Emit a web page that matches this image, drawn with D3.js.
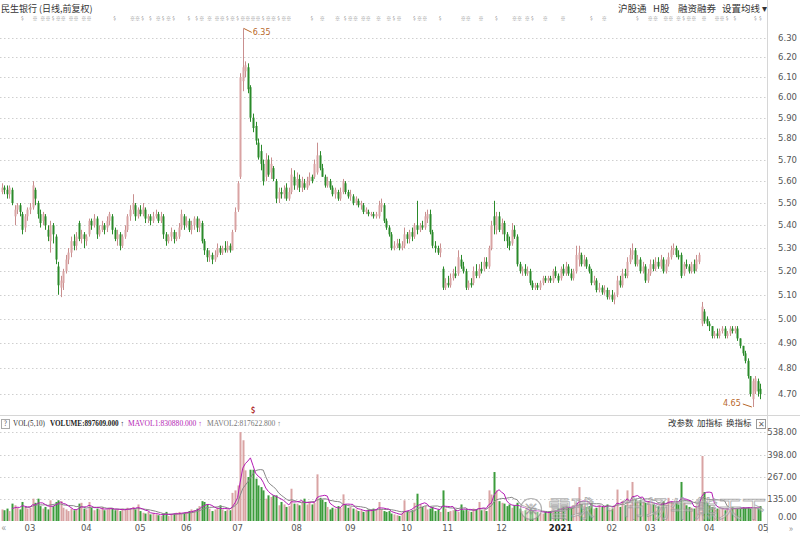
<!DOCTYPE html>
<html><head><meta charset="utf-8">
<script src="https://cdn.jsdelivr.net/npm/d3@7"></script>
<style>
body{margin:0;background:#fff;}
svg{display:block;font-family:"Noto Sans CJK SC","Noto Sans",sans-serif;}
</style>
</head><body>
<svg id="c" width="800" height="533"></svg>
<script>
// ---- DATA (daily OHLC, 2020-02-14 .. 2021-04-30) ----
const opens=[
5.55,5.57,5.56,5.54,5.56,5.44,5.47,5.49,5.45,5.39,
5.44,5.47,5.48,5.56,5.50,5.45,5.42,5.44,5.38,5.33,
5.40,5.35,5.22,5.13,5.15,5.20,5.25,5.28,5.33,5.31,
5.41,5.34,5.36,5.33,5.36,5.42,5.40,5.43,5.36,5.38,
5.40,5.39,5.42,5.44,5.38,5.34,5.36,5.31,5.35,5.38,
5.44,5.47,5.49,5.44,5.47,5.45,5.47,5.43,5.44,5.42,
5.44,5.45,5.42,5.44,5.36,5.33,5.35,5.37,5.34,5.35,
5.39,5.44,5.40,5.42,5.38,5.40,5.43,5.39,5.41,5.33,
5.29,5.26,5.27,5.25,5.27,5.30,5.28,5.30,5.29,5.31,
5.29,5.38,5.47,5.62,6.08,6.13,6.15,6.05,5.90,5.86,
5.78,5.74,5.68,5.62,5.70,5.64,5.66,5.60,5.52,5.55,
5.54,5.57,5.52,5.55,5.62,5.58,5.61,5.57,5.59,5.57,
5.60,5.62,5.62,5.64,5.72,5.66,5.62,5.58,5.60,5.57,
5.54,5.55,5.52,5.55,5.59,5.55,5.53,5.53,5.50,5.51,
5.49,5.49,5.46,5.46,5.45,5.45,5.44,5.44,5.48,5.49,
5.42,5.39,5.36,5.30,5.31,5.32,5.30,5.31,5.36,5.34,
5.37,5.35,5.40,5.38,5.40,5.39,5.43,5.45,5.37,5.31,
5.30,5.28,5.21,5.13,5.15,5.14,5.17,5.19,5.19,5.25,
5.22,5.20,5.13,5.15,5.15,5.20,5.18,5.21,5.21,5.24,
5.22,5.30,5.44,5.38,5.44,5.38,5.41,5.36,5.33,5.32,
5.38,5.35,5.23,5.20,5.21,5.19,5.20,5.15,5.13,5.14,
5.13,5.15,5.17,5.16,5.17,5.16,5.20,5.18,5.17,5.21,
5.19,5.22,5.19,5.17,5.20,5.25,5.27,5.23,5.25,5.22,
5.20,5.15,5.16,5.12,5.13,5.11,5.12,5.09,5.10,5.08,
5.10,5.16,5.14,5.19,5.18,5.24,5.27,5.29,5.23,5.25,
5.20,5.22,5.16,5.19,5.23,5.21,5.24,5.22,5.25,5.20,
5.23,5.26,5.29,5.30,5.27,5.27,5.19,5.23,5.22,5.20,
5.23,5.21,5.24,4.98,5.03,5.00,4.98,4.97,4.93,4.94,
4.93,4.95,4.96,4.93,4.94,4.96,4.95,4.96,4.92,4.89,
4.86,4.83,4.77,4.68,4.71,4.75,4.72];
const highs=[
5.59,5.58,5.58,5.58,5.57,5.49,5.50,5.50,5.46,5.45,
5.48,5.50,5.60,5.57,5.51,5.47,5.46,5.45,5.40,5.42,
5.41,5.36,5.24,5.18,5.21,5.27,5.30,5.35,5.36,5.37,
5.42,5.38,5.37,5.36,5.43,5.43,5.45,5.44,5.40,5.42,
5.41,5.44,5.46,5.45,5.39,5.38,5.37,5.36,5.40,5.45,
5.49,5.54,5.50,5.48,5.49,5.50,5.48,5.45,5.45,5.46,
5.47,5.46,5.46,5.45,5.37,5.36,5.39,5.38,5.37,5.41,
5.47,5.45,5.44,5.43,5.42,5.44,5.44,5.43,5.42,5.34,
5.30,5.29,5.28,5.29,5.32,5.31,5.31,5.33,5.33,5.32,
5.38,5.48,5.60,6.12,6.35,6.18,6.17,6.06,5.92,5.88,
5.80,5.77,5.70,5.73,5.72,5.71,5.67,5.61,5.57,5.57,
5.58,5.59,5.57,5.66,5.65,5.64,5.63,5.62,5.61,5.62,
5.64,5.63,5.70,5.78,5.74,5.68,5.63,5.62,5.61,5.58,
5.57,5.56,5.57,5.61,5.60,5.56,5.56,5.54,5.53,5.52,
5.51,5.50,5.48,5.47,5.46,5.46,5.46,5.51,5.52,5.50,
5.43,5.40,5.37,5.33,5.34,5.34,5.33,5.39,5.37,5.38,
5.39,5.41,5.51,5.41,5.42,5.46,5.47,5.47,5.38,5.33,
5.31,5.32,5.22,5.17,5.18,5.19,5.21,5.22,5.29,5.27,
5.24,5.21,5.16,5.17,5.22,5.23,5.23,5.24,5.26,5.26,
5.31,5.42,5.51,5.46,5.46,5.43,5.42,5.37,5.35,5.41,
5.40,5.36,5.24,5.22,5.23,5.22,5.21,5.16,5.15,5.15,
5.16,5.18,5.18,5.18,5.18,5.21,5.22,5.19,5.22,5.23,
5.24,5.23,5.21,5.21,5.31,5.31,5.28,5.27,5.26,5.23,
5.21,5.18,5.17,5.15,5.14,5.14,5.13,5.12,5.12,5.11,
5.18,5.18,5.21,5.21,5.26,5.30,5.32,5.30,5.27,5.26,
5.24,5.23,5.21,5.25,5.25,5.26,5.26,5.27,5.26,5.25,
5.28,5.31,5.32,5.31,5.29,5.28,5.24,5.25,5.23,5.24,
5.25,5.27,5.28,5.07,5.04,5.01,4.99,4.97,4.95,4.96,
4.96,4.97,4.97,4.95,4.97,4.97,4.97,4.97,4.92,4.89,
4.87,4.84,4.77,4.76,4.77,4.76,4.74];
const lows=[
5.54,5.54,5.52,5.52,5.49,5.40,5.45,5.44,5.36,5.37,
5.42,5.45,5.47,5.49,5.43,5.39,5.40,5.38,5.33,5.28,
5.32,5.23,5.10,5.09,5.12,5.19,5.23,5.26,5.29,5.29,
5.33,5.32,5.30,5.31,5.35,5.38,5.39,5.34,5.35,5.37,
5.36,5.37,5.40,5.36,5.33,5.31,5.29,5.30,5.34,5.37,
5.42,5.45,5.42,5.43,5.44,5.44,5.41,5.41,5.40,5.41,
5.43,5.41,5.41,5.34,5.31,5.32,5.33,5.32,5.33,5.34,
5.38,5.38,5.39,5.37,5.36,5.38,5.37,5.37,5.32,5.27,
5.24,5.24,5.23,5.24,5.26,5.27,5.27,5.28,5.28,5.28,
5.29,5.37,5.46,5.61,6.03,6.10,6.02,5.88,5.83,5.77,
5.70,5.65,5.58,5.60,5.62,5.61,5.60,5.50,5.50,5.52,
5.52,5.51,5.51,5.54,5.56,5.56,5.55,5.55,5.56,5.56,
5.58,5.59,5.61,5.63,5.65,5.62,5.57,5.57,5.56,5.53,
5.52,5.51,5.51,5.54,5.54,5.52,5.51,5.49,5.49,5.48,
5.47,5.45,5.45,5.44,5.44,5.43,5.43,5.43,5.46,5.41,
5.38,5.35,5.29,5.29,5.30,5.29,5.29,5.30,5.32,5.32,
5.33,5.34,5.36,5.37,5.38,5.38,5.41,5.36,5.30,5.28,
5.27,5.26,5.12,5.12,5.13,5.13,5.16,5.17,5.18,5.21,
5.19,5.12,5.12,5.13,5.14,5.17,5.17,5.19,5.20,5.21,
5.21,5.29,5.36,5.36,5.37,5.36,5.33,5.30,5.29,5.31,
5.34,5.22,5.19,5.18,5.18,5.18,5.14,5.12,5.12,5.12,
5.12,5.14,5.15,5.15,5.15,5.15,5.17,5.15,5.16,5.18,
5.18,5.18,5.16,5.16,5.19,5.22,5.22,5.22,5.21,5.19,
5.14,5.14,5.11,5.11,5.10,5.10,5.08,5.08,5.07,5.06,
5.09,5.13,5.13,5.17,5.17,5.23,5.25,5.22,5.22,5.19,
5.19,5.15,5.15,5.18,5.20,5.20,5.21,5.21,5.19,5.19,
5.22,5.25,5.27,5.26,5.25,5.17,5.18,5.21,5.19,5.19,
5.19,5.20,5.23,4.97,4.98,4.97,4.95,4.92,4.92,4.92,
4.92,4.94,4.92,4.92,4.93,4.94,4.94,4.91,4.88,4.85,
4.82,4.76,4.69,4.65,4.70,4.69,4.68];
const closes=[
5.57,5.56,5.54,5.57,5.50,5.47,5.49,5.46,5.38,5.44,
5.47,5.48,5.58,5.52,5.45,5.41,5.45,5.40,5.35,5.40,
5.36,5.25,5.14,5.16,5.20,5.25,5.28,5.33,5.31,5.35,
5.34,5.36,5.34,5.35,5.42,5.40,5.43,5.36,5.38,5.40,
5.38,5.42,5.45,5.38,5.34,5.36,5.31,5.35,5.38,5.44,
5.47,5.50,5.44,5.47,5.45,5.48,5.43,5.44,5.42,5.44,
5.45,5.42,5.44,5.36,5.33,5.35,5.37,5.34,5.35,5.39,
5.45,5.40,5.42,5.38,5.40,5.43,5.39,5.42,5.33,5.29,
5.26,5.27,5.25,5.27,5.30,5.28,5.30,5.29,5.31,5.29,
5.37,5.46,5.59,6.10,6.15,6.16,6.04,5.90,5.85,5.79,
5.71,5.68,5.60,5.70,5.63,5.68,5.61,5.52,5.55,5.54,
5.56,5.52,5.55,5.63,5.58,5.61,5.57,5.60,5.57,5.60,
5.62,5.60,5.68,5.72,5.66,5.62,5.58,5.60,5.57,5.54,
5.56,5.52,5.55,5.60,5.55,5.53,5.54,5.50,5.52,5.49,
5.50,5.46,5.47,5.45,5.45,5.44,5.45,5.49,5.50,5.42,
5.39,5.36,5.30,5.31,5.32,5.30,5.31,5.36,5.34,5.37,
5.35,5.40,5.38,5.40,5.39,5.44,5.45,5.37,5.31,5.30,
5.28,5.30,5.13,5.15,5.14,5.17,5.19,5.18,5.26,5.22,
5.20,5.13,5.15,5.14,5.20,5.18,5.21,5.20,5.24,5.22,
5.30,5.40,5.40,5.44,5.38,5.41,5.36,5.33,5.31,5.38,
5.35,5.23,5.20,5.21,5.19,5.20,5.15,5.13,5.14,5.13,
5.15,5.17,5.16,5.17,5.16,5.20,5.18,5.16,5.21,5.19,
5.22,5.19,5.17,5.20,5.27,5.28,5.23,5.25,5.22,5.20,
5.15,5.16,5.12,5.13,5.11,5.12,5.09,5.10,5.08,5.10,
5.16,5.14,5.19,5.18,5.24,5.27,5.29,5.23,5.25,5.20,
5.22,5.16,5.19,5.23,5.21,5.24,5.22,5.25,5.20,5.23,
5.26,5.29,5.30,5.27,5.26,5.18,5.23,5.22,5.20,5.23,
5.20,5.25,5.27,5.05,4.99,4.98,4.97,4.93,4.94,4.93,
4.95,4.96,4.93,4.94,4.96,4.95,4.96,4.92,4.89,4.86,
4.83,4.77,4.70,4.75,4.76,4.71,4.70];
// volume, 10k lots
const volumes=[
70,65,75,60,105,95,80,70,115,85,
75,80,135,110,135,90,75,85,70,125,
90,115,125,120,80,70,60,75,65,70,
105,110,75,70,115,80,65,75,70,85,
65,70,80,75,65,70,60,75,70,80,
75,85,70,100,60,50,45,55,40,45,
40,35,30,45,55,30,40,45,50,55,
45,50,55,60,70,65,75,90,120,115,
100,75,60,70,80,95,70,60,70,65,
170,185,215,538,488,306,266,310,310,256,
215,205,185,135,155,145,155,155,95,115,
100,85,90,195,105,105,95,120,135,100,
115,100,110,282,140,130,115,85,70,80,
75,90,80,161,100,80,85,75,70,60,
65,55,60,70,65,75,70,115,70,60,
55,60,45,40,35,30,50,125,60,55,
65,110,165,100,85,90,70,75,85,60,
70,55,185,75,55,60,65,70,55,100,
65,70,60,55,75,70,115,65,70,60,
185,160,296,185,120,110,105,90,100,80,
95,110,75,60,65,55,70,60,65,55,
50,45,55,50,60,70,65,75,80,85,
90,80,80,95,110,205,100,95,85,90,
110,75,80,95,85,90,100,80,75,95,
190,85,120,95,185,100,236,130,120,125,
115,110,120,105,100,95,90,110,120,100,
140,115,105,120,100,236,110,95,85,80,
75,90,100,393,175,110,95,85,80,75,
70,75,65,80,70,85,75,78,80,82,
80,82.2,75,85,80,85.6,89.76];
const monthIdx=[11,33,54,72,92,115,136,158,174,195,218,238,253,276,297];
const monthLabels=["03","04","05","06","07","08","09","10","11","12","2021","02","03","04","05"];
const priceTicks=[4.7,4.8,4.9,5.0,5.1,5.2,5.3,5.4,5.5,5.6,5.7,5.8,5.9,6.0,6.1,6.2,6.3];
const volTicks=[0,135,267,398,538];
const eventIdx=[8,13,16,18,20,22,24,27,29,32,34,44,51,53,55,58,61,63,65,67,73,76,78,81,84,86,88,90,92,94,96,98,100,102,104,106,108,110,112,121,125,131,134,136,138,141,143,147,151,153,155,161,163,165,171,180,182,187,193,200,202,205,207,212,219,230,235,248,253,255,259,261,264,266,268,270,274,279,281,283,286,294,296];
const eventSym="$※※※$※※※※※※$※※$$※$※$$$※※※※$※$※※※※$※※$※※$※※$※※※※※※$※$※※$※※※$※※※$※※$※$※※※※※$※※※※※$$$$";

// ---- CHART ----
const svg=d3.select("#c");
const n=closes.length;
const x=d3.scaleBand().domain(d3.range(299)).range([0.5,766.9]).padding(0);
const cx=i=>x(i)+x.bandwidth()/2;
const y=d3.scaleLog().domain([4.70,6.30]).range([394,38]);
const yv=d3.scaleLinear().domain([0,538]).range([521,432]);
const UP="#d9a3a3", UPS="#c98f8f", DN="#2a8a2a", DNV="#3c9c3c";
const grid="#cfcfcf";

// top title row
svg.append("text").attr("x",1).attr("y",12).attr("font-size",9).attr("fill","#333").text("民生银行 (日线,前复权)");
const topLinks=[["沪股通",618],["H股",653],["融资融券",678],["设置均线 ▾",722]];
svg.selectAll("text.tl").data(topLinks).join("text").attr("class","tl")
  .attr("x",d=>d[1]).attr("y",12).attr("font-size",9.5).attr("fill","#333").text(d=>d[0]);

// event markers row
svg.selectAll("text.ev").data(eventIdx).join("text").attr("class","ev")
  .attr("x",d=>cx(d)).attr("y",20).attr("text-anchor","middle").attr("font-size",5).attr("fill","#8a8a8a")
  .text((d,i)=>eventSym[i]||"※");

// frame lines
svg.append("line").attr("x1",767.5).attr("x2",767.5).attr("y1",0).attr("y2",533).attr("stroke","#d6d6d6");
svg.append("line").attr("x1",0).attr("x2",800).attr("y1",415.5).attr("y2",415.5).attr("stroke","#d6d6d6");

// price grid
svg.selectAll("line.pg").data(priceTicks).join("line").attr("class","pg")
  .attr("x1",0).attr("x2",767).attr("y1",d=>Math.round(y(d))+0.5).attr("y2",d=>Math.round(y(d))+0.5)
  .attr("stroke",grid).attr("stroke-dasharray","1.5,2.5");
svg.selectAll("text.pt").data(priceTicks).join("text").attr("class","pt")
  .attr("x",797).attr("y",d=>y(d)+3).attr("text-anchor","end").attr("font-size",8.5)
  .attr("font-family","DejaVu Sans").attr("fill","#555").text(d=>d.toFixed(2));

// volume grid
svg.selectAll("line.vg").data(volTicks.slice(1)).join("line").attr("class","vg")
  .attr("x1",0).attr("x2",767).attr("y1",d=>Math.round(yv(d))+0.5).attr("y2",d=>Math.round(yv(d))+0.5)
  .attr("stroke",grid).attr("stroke-dasharray","1.5,2.5");
svg.selectAll("text.vt").data(volTicks).join("text").attr("class","vt")
  .attr("x",797).attr("y",d=>d===0?yv(d)-1.5:yv(d)+3).attr("text-anchor","end").attr("font-size",8.5)
  .attr("font-family","DejaVu Sans").attr("fill","#555").text(d=>d.toFixed(2));

// candles
const data=d3.range(n).map(i=>({i,o:opens[i],h:highs[i],l:lows[i],c:closes[i],v:volumes[i]}));
const cg=svg.append("g");
cg.selectAll("line.w").data(data).join("line").attr("class","w")
  .attr("x1",d=>Math.round(cx(d.i))+0.5).attr("x2",d=>Math.round(cx(d.i))+0.5)
  .attr("y1",d=>y(d.h)).attr("y2",d=>y(d.l))
  .attr("stroke",d=>d.c>=d.o?UPS:DN).attr("stroke-width",1);
cg.selectAll("rect.b").data(data).join("rect").attr("class","b")
  .attr("x",d=>Math.round(cx(d.i))-0.5).attr("width",2)
  .attr("y",d=>y(Math.max(d.o,d.c))).attr("height",d=>Math.max(1,Math.abs(y(d.o)-y(d.c))))
  .attr("fill",d=>d.c>=d.o?UP:DN);

// hi / lo annotations
const hiI=d3.maxIndex(highs), loI=d3.minIndex(lows);
const ann="#b8672a";
svg.append("line").attr("x1",cx(hiI)+1).attr("y1",y(highs[hiI])).attr("x2",cx(hiI)+9).attr("y2",y(highs[hiI])+4).attr("stroke",ann);
svg.append("text").attr("x",cx(hiI)+10).attr("y",y(highs[hiI])+7).attr("font-size",8).attr("font-family","DejaVu Sans").attr("fill",ann).text(highs[hiI].toFixed(2));
svg.append("line").attr("x1",cx(loI)-1).attr("y1",y(lows[loI])).attr("x2",cx(loI)-10).attr("y2",y(lows[loI])-3).attr("stroke",ann);
svg.append("text").attr("x",cx(loI)-12).attr("y",y(lows[loI])-1).attr("text-anchor","end").attr("font-size",8).attr("font-family","DejaVu Sans").attr("fill",ann).text(lows[loI].toFixed(2));

// dividend marker
svg.append("text").attr("x",253).attr("y",413).attr("text-anchor","middle").attr("font-size",8).attr("font-weight","bold").attr("fill","#b03030").text("$");

// volume header
const hy=426;
svg.append("rect").attr("x",1.5).attr("y",419.5).attr("width",8).attr("height",9).attr("fill","none").attr("stroke","#aaa");
svg.append("text").attr("x",5.5).attr("y",hy).attr("text-anchor","middle").attr("font-size",7).attr("fill","#666").text("?");
const hdr=[["VOL(5,10)",13,32,"#333","normal"],["VOLUME:897609.000 ↑",50,74,"#222","bold"],
 ["MAVOL1:830880.000 ↑",128,74,"#b41cb4","normal"],["MAVOL2:817622.800 ↑",207,74,"#777","normal"]];
svg.selectAll("text.hd").data(hdr).join("text").attr("class","hd")
  .attr("x",d=>d[1]).attr("y",hy).attr("font-size",7.5).attr("font-family","Liberation Serif")
  .attr("fill",d=>d[3]).attr("font-weight",d=>d[4]).attr("textLength",d=>d[2]).attr("lengthAdjust","spacingAndGlyphs").text(d=>d[0]);
const rbtn=[["改参数",668],["加指标",697],["换指标",726]];
svg.selectAll("text.rb").data(rbtn).join("text").attr("class","rb")
  .attr("x",d=>d[1]).attr("y",hy).attr("font-size",8.5).attr("fill","#333").text(d=>d[0]);
svg.append("rect").attr("x",756.5).attr("y",419.5).attr("width",9).attr("height",9).attr("fill","none").attr("stroke","#999");
svg.append("text").attr("x",761).attr("y",427).attr("text-anchor","middle").attr("font-size",8).attr("fill","#666").text("✕");

// volume bars
svg.append("g").selectAll("rect").data(data).join("rect")
  .attr("x",d=>Math.round(cx(d.i))-0.5).attr("width",2)
  .attr("y",d=>yv(d.v)).attr("height",d=>yv(0)-yv(d.v))
  .attr("fill",d=>d.c>=d.o?UP:DNV);

// MAVOL lines
function ma(k){return data.map((d,i)=>i<k-1?null:{i,v:d3.mean(volumes.slice(i-k+1,i+1))}).filter(Boolean);}
const ln=d3.line().x(d=>cx(d.i)).y(d=>yv(d.v));
svg.append("path").attr("d",ln(ma(10))).attr("fill","none").attr("stroke","#888").attr("stroke-width",1);
svg.append("path").attr("d",ln(ma(5))).attr("fill","none").attr("stroke","#b41cb4").attr("stroke-width",1);

// x axis labels
svg.selectAll("text.mx").data(monthIdx).join("text").attr("class","mx")
  .attr("x",d=>cx(d)).attr("y",531).attr("text-anchor","middle").attr("font-size",8.5)
  .attr("font-family","DejaVu Sans").attr("fill",(d,i)=>monthLabels[i]==="2021"?"#222":"#555")
  .attr("font-weight",(d,i)=>monthLabels[i]==="2021"?"bold":"normal").text((d,i)=>monthLabels[i]);
svg.append("text").attr("x",4).attr("y",531).attr("text-anchor","middle").attr("font-size",10).attr("fill","#999").text("«");
svg.append("text").attr("x",791).attr("y",532).attr("text-anchor","middle").attr("font-size",9).attr("fill","#999").text("»");

// watermark
const wm=svg.append("g").attr("opacity",0.75);
wm.append("circle").attr("cx",531).attr("cy",509).attr("r",10.5).attr("fill","rgba(255,255,255,0.5)").attr("stroke","#999").attr("stroke-width",1.2);
wm.append("text").attr("x",531).attr("y",514).attr("text-anchor","middle").attr("font-size",14).attr("fill","none").attr("stroke","#999").attr("stroke-width",0.9).text("※");
wm.append("text").attr("x",548).attr("y",517).attr("font-size",23).attr("fill","rgba(255,255,255,0.55)").attr("stroke","#9a9a9a").attr("stroke-width",0.9).text("雪球");
wm.append("text").attr("x",598).attr("y",517).attr("font-size",23).attr("fill","rgba(255,255,255,0.55)").attr("stroke","#9a9a9a").attr("stroke-width",0.9)
  .attr("textLength",168).attr("lengthAdjust","spacingAndGlyphs").text("·市场牛熊天下");
</script>
</body></html>
